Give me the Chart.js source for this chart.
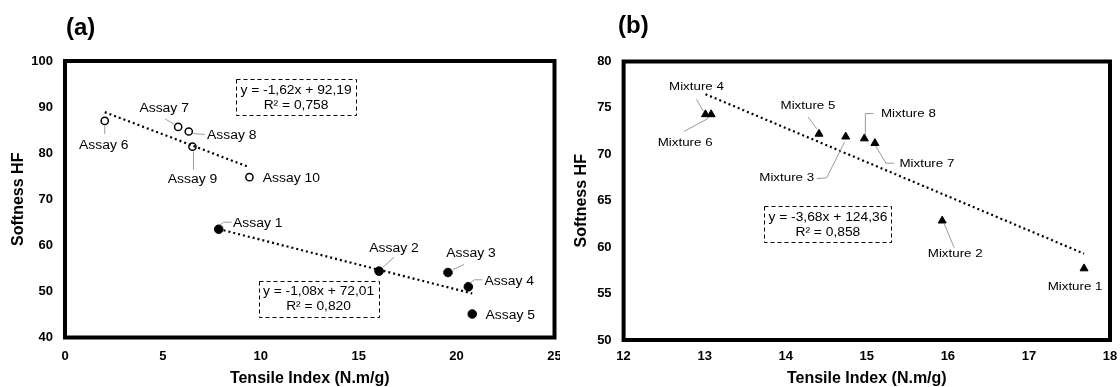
<!DOCTYPE html>
<html><head><meta charset="utf-8">
<script src="https://cdn.jsdelivr.net/npm/chart.js@4.4.1/dist/chart.umd.min.js"></script>
<style>
html,body{margin:0;padding:0;background:#fff;}
#wrap{display:flex;width:1120px;height:387px;}
canvas{display:block;}
</style></head><body>
<div id="wrap"><canvas id="ca" width="560" height="387"></canvas><canvas id="cb" width="560" height="387"></canvas></div>
<script>
// ---------- DATA ----------
const assayNames = ['Assay 1','Assay 2','Assay 3','Assay 4','Assay 5','Assay 6','Assay 7','Assay 8','Assay 9','Assay 10'];
const assayTensile = [7.85, 16.04, 19.56, 20.6, 20.8, 2.03, 5.78, 6.32, 6.51, 9.42];
const assaySoftness = [63.5, 54.4, 54.1, 51.0, 45.1, 87.0, 85.7, 84.7, 81.4, 74.8];
const assayFilled = [true, true, true, true, true, false, false, false, false, false];

const mixtureNames = ['Mixture 1','Mixture 2','Mixture 3','Mixture 4','Mixture 5','Mixture 6','Mixture 7','Mixture 8'];
const mixtureTensile = [17.68, 15.93, 14.74, 13.01, 14.41, 13.08, 15.10, 14.97];
const mixtureSoftness = [57.7, 62.85, 71.9, 74.3, 72.2, 74.3, 71.2, 71.7];

const trendOpenX = [2.03, 9.42],   trendOpenY = [88.90, 76.93];
const trendFilledX = [7.85, 20.8], trendFilledY = [63.53, 49.55];
const trendMixX = [13.01, 17.68],  trendMixY = [76.48, 59.30];

const eqOpen = ['y = -1,62x + 92,19', 'R² = 0,758'];
const eqFilled = ['y = -1,08x + 72,01', 'R² = 0,820'];
const eqMix = ['y = -3,68x + 124,36', 'R² = 0,858'];

const ticksAX = [0, 5, 10, 15, 20, 25];
const ticksAY = [40, 50, 60, 70, 80, 90, 100];
const ticksBX = [12, 13, 14, 15, 16, 17, 18];
const ticksBY = [50, 55, 60, 65, 70, 75, 80];

const xTitle = 'Tensile Index (N.m/g)';
const yTitle = 'Softness HF';

// ---------- LAYOUT / STYLE (label offsets in px, relative to the point) ----------
const assayLabelLayout = [
  {dx:39, dy:-6, leader:[[1,-4],[5,-7],[13,-7]]},
  {dx:15, dy:-22, leader:[[4,-4],[15,-14]]},
  {dx:23, dy:-19, leader:[[5,-3],[16,-8]]},
  {dx:41, dy:-5, leader:[[2,-4],[6,-7],[14,-7]]},
  {dx:38, dy:2},
  {dx:-1, dy:25, leader:[[0,4],[0,13]]},
  {dx:-14, dy:-18, leader:[[-13,-8],[-3,-2]]},
  {dx:43, dy:4, leader:[[4,2],[16,3]]},
  {dx:0, dy:33, leader:[[1,5],[1,23]]},
  {dx:42, dy:2}
];
const mixtureLabelLayout = [
  {dx:-9, dy:18},
  {dx:13, dy:33, leader:[[2,3],[12,27]]},
  {dx:-59, dy:41, leader:[[-29,42],[-19,41],[-1,5]]},
  {dx:-9, dy:-28, leader:[[-9,-15],[-2,-3]]},
  {dx:-11, dy:-28, leader:[[-11,-17],[-2,-5]]},
  {dx:-26, dy:28, leader:[[-27,17],[-3,4]]},
  {dx:52, dy:21, leader:[[1,3],[11,20],[19,20]]},
  {dx:44, dy:-25, leader:[[1,-4],[1,-25],[9,-25]]}
];

const FONT = '"Liberation Sans", Arial, Helvetica, sans-serif';

function pts(xs, ys) { return xs.map((v, i) => ({x: v, y: ys[i]})); }

function drawText(ctx, text, x, y, font, sx, align) {
  ctx.save();
  ctx.translate(x, y);
  ctx.scale(sx, 1);
  ctx.font = font;
  ctx.textAlign = align || 'center';
  ctx.textBaseline = 'middle';
  ctx.fillStyle = '#000';
  ctx.fillText(text, 0, 0);
  ctx.restore();
}

const annotPlugin = {
  id: 'annot',
  afterDraw(chart, args, o) {
    const ctx = chart.ctx, a = chart.chartArea, xs = chart.scales.x, ys = chart.scales.y;
    ctx.save();
    // equation boxes
    o.boxes.forEach(b => {
      const cx = xs.getPixelForValue(b.cx), cy = ys.getPixelForValue(b.cy);
      ctx.setLineDash([4, 3]);
      ctx.lineWidth = 1;
      ctx.strokeStyle = '#000';
      ctx.strokeRect(Math.round(cx - b.w / 2) + 0.5, Math.round(cy - b.h / 2) + 0.5, b.w, b.h);
      ctx.setLineDash([]);
      drawText(ctx, b.lines[0], cx, cy - 6.5, '12px ' + FONT, 1.15);
      drawText(ctx, b.lines[1], cx, cy + 8.5, '12px ' + FONT, 1.15);
    });
    // data labels with leader lines
    o.labels.forEach(l => {
      const px = xs.getPixelForValue(l.x), py = ys.getPixelForValue(l.y);
      const L = l.layout;
      if (L.leader) {
        ctx.beginPath();
        ctx.strokeStyle = '#9a9a9a';
        ctx.lineWidth = 1;
        L.leader.forEach((p, i) => {
          if (i === 0) ctx.moveTo(px + p[0], py + p[1]); else ctx.lineTo(px + p[0], py + p[1]);
        });
        ctx.stroke();
      }
      drawText(ctx, l.text, px + L.dx, py + L.dy, o.labelFont, o.labelScale);
    });
    // plot frame
    ctx.lineWidth = 4;
    ctx.strokeStyle = '#000';
    ctx.strokeRect(a.left, a.top, a.right - a.left, a.bottom - a.top);
    // panel title
    ctx.font = 'bold 24px ' + FONT;
    ctx.textAlign = 'left';
    ctx.textBaseline = 'middle';
    ctx.fillStyle = '#000';
    ctx.fillText(o.title, o.titleX, o.titleY);
    ctx.restore();
  }
};

function makeChart(id, cfg) {
  const tickFont = {family: FONT, size: 13, weight: 'bold'};
  const titleFont = {family: FONT, size: 16, weight: 'bold', lineHeight: 1};
  return new Chart(document.getElementById(id), {
    type: 'scatter',
    data: {datasets: cfg.datasets},
    options: {
      responsive: false, animation: false, devicePixelRatio: 1,
      layout: {padding: {top: cfg.top, right: 560 - cfg.right, left: 0, bottom: 0}},
      plugins: {
        legend: {display: false}, tooltip: {enabled: false},
        annot: cfg.annot
      },
      scales: {
        x: {
          type: 'linear', min: cfg.xMin, max: cfg.xMax,
          grid: {display: false, drawTicks: false}, border: {display: false},
          ticks: {font: tickFont, color: '#000', padding: cfg.xPad, autoSkip: false, maxRotation: 0},
          afterBuildTicks: s => { s.ticks = cfg.xTicks.map(v => ({value: v})); },
          afterFit: s => { s.height = 387 - cfg.bottom; s.paddingLeft = 0; s.paddingRight = 0; },
          title: {display: true, text: xTitle, color: '#000', font: titleFont, padding: {top: 0, bottom: 0}}
        },
        y: {
          type: 'linear', min: cfg.yMin, max: cfg.yMax,
          grid: {display: false, drawTicks: false}, border: {display: false},
          ticks: {font: tickFont, color: '#000', padding: 12, autoSkip: false},
          afterBuildTicks: s => { s.ticks = cfg.yTicks.map(v => ({value: v})); },
          afterFit: s => { s.width = cfg.left; s.paddingTop = 0; s.paddingBottom = 0; },
          title: {display: true, text: yTitle, color: '#000', font: titleFont, padding: {top: cfg.yTitlePad, bottom: 0}}
        }
      }
    },
    plugins: [annotPlugin]
  });
}

const trendStyle = {showLine: true, borderColor: '#000', borderWidth: 2.2, borderDash: [2, 3], pointRadius: 0, fill: false};

// ---------- Chart (a) ----------
const filledIdx = assayFilled.map((f, i) => f ? i : -1).filter(i => i >= 0);
const openIdx = assayFilled.map((f, i) => f ? -1 : i).filter(i => i >= 0);

makeChart('ca', {
  left: 65, right: 555, top: 61, bottom: 337.5, xPad: 11, yTitlePad: 11,
  xMin: 0, xMax: 25, yMin: 40, yMax: 100, xTicks: ticksAX, yTicks: ticksAY,
  datasets: [
    Object.assign({data: pts(trendOpenX, trendOpenY)}, trendStyle),
    Object.assign({data: pts(trendFilledX, trendFilledY)}, trendStyle),
    {data: openIdx.map(i => ({x: assayTensile[i], y: assaySoftness[i]})),
     pointRadius: 3.6, pointBorderWidth: 1.5, pointBorderColor: '#000', pointBackgroundColor: '#fff'},
    {data: filledIdx.map(i => ({x: assayTensile[i], y: assaySoftness[i]})),
     pointRadius: 4.3, pointBorderWidth: 1, pointBorderColor: '#000', pointBackgroundColor: '#000'}
  ],
  annot: {
    title: '(a)', titleX: 66, titleY: 28,
    labelFont: '12px ' + FONT, labelScale: 1.16,
    boxes: [
      {cx: 11.8, cy: 92.25, w: 120, h: 36, lines: eqOpen},
      {cx: 12.95, cy: 48.43, w: 120, h: 36, lines: eqFilled}
    ],
    labels: assayNames.map((n, i) => ({text: n, x: assayTensile[i], y: assaySoftness[i], layout: assayLabelLayout[i]}))
  }
});

// ---------- Chart (b) ----------
makeChart('cb', {
  left: 63.6, right: 550, top: 61.5, bottom: 340, xPad: 9, yTitlePad: 14,
  xMin: 12, xMax: 18, yMin: 50, yMax: 80, xTicks: ticksBX, yTicks: ticksBY,
  datasets: [
    Object.assign({data: pts(trendMixX, trendMixY)}, trendStyle),
    {data: pts(mixtureTensile, mixtureSoftness), pointStyle: 'triangle',
     pointRadius: 4.6, pointBorderWidth: 1, pointBorderColor: '#000', pointBackgroundColor: '#000'}
  ],
  annot: {
    title: '(b)', titleX: 58, titleY: 26,
    labelFont: '11.5px ' + FONT, labelScale: 1.16,
    boxes: [
      {cx: 14.52, cy: 62.5, w: 127, h: 36, lines: eqMix}
    ],
    labels: mixtureNames.map((n, i) => ({text: n, x: mixtureTensile[i], y: mixtureSoftness[i], layout: mixtureLabelLayout[i]}))
  }
});
</script>
</body></html>
